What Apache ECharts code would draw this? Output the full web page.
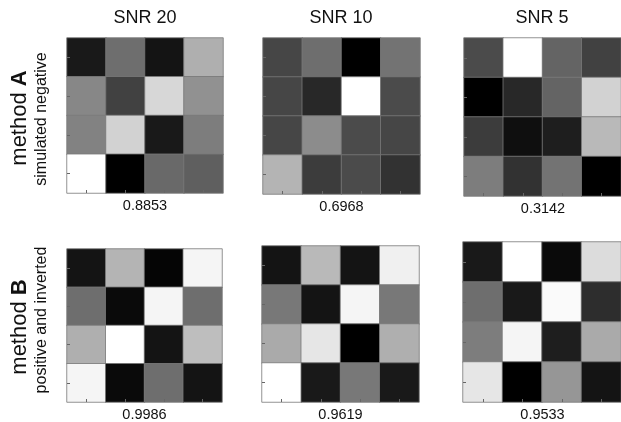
<!DOCTYPE html>
<html>
<head>
<meta charset="utf-8">
<script src="https://cdn.jsdelivr.net/npm/echarts@6/dist/echarts.min.js"></script>
<style>
html,body{margin:0;padding:0;background:#fff;}
#chart{width:621px;height:422px;}
</style>
</head>
<body>
<div id="chart"></div>
<script>
// Column titles and row labels
const colTitles = ['SNR 20', 'SNR 10', 'SNR 5'];
const rowMethods = ['A', 'B'];
const rowSubtitles = ['simulated negative', 'positive and inverted'];
// Scores under each panel (row A, then row B)
const scoresA = ['0.8853', '0.6968', '0.3142'];
const scoresB = ['0.9986', '0.9619', '0.9533'];
// 4x4 gray levels (0 = black, 255 = white), rows top to bottom
const a20 = [[25,110,20,175],[135,65,215,145],[130,210,25,125],[255,0,105,95]];
const a10 = [[70,110,0,115],[70,40,255,75],[70,140,75,70],[180,60,75,50]];
const a5  = [[75,255,100,65],[0,40,100,210],[60,15,30,185],[125,50,115,0]];
const b20 = [[20,180,5,245],[110,10,245,110],[175,255,20,190],[245,10,110,20]];
const b10 = [[20,185,20,240],[120,20,245,120],[170,230,0,175],[255,25,120,25]];
const b5  = [[25,255,10,220],[110,25,250,45],[125,245,30,170],[230,0,150,20]];

const matrices = [a20, a10, a5, b20, b10, b5];
const scores = scoresA.concat(scoresB);
const cats = ['1','2','3','4'];

// panel boxes [left, top, width, height]
const boxes = [
  [67, 38, 156, 155], [263, 38, 157, 156], [464, 38, 158, 158],
  [67, 249, 155, 153], [262, 246, 157, 156], [463, 242, 159, 160]
];

const grids = [], xAxes = [], yAxes = [], series = [], graphics = [];
matrices.forEach((m, i) => {
  const b = boxes[i];
  grids.push({left: b[0], top: b[1], width: b[2], height: b[3], containLabel: false});
  const tick = {show: true, inside: true, length: 3, alignWithLabel: true, lineStyle: {color: '#666', width: 1}};
  xAxes.push({type: 'category', gridIndex: i, data: cats, z: 5, axisLabel: {show: false}, axisLine: {show: false}, axisTick: tick, splitLine: {show: false}});
  yAxes.push({type: 'category', gridIndex: i, data: cats, inverse: true, z: 5, axisLabel: {show: false}, axisLine: {show: false}, axisTick: tick, splitLine: {show: false}});
  const data = [];
  m.forEach((row, r) => row.forEach((v, c) => data.push([c, r, v])));
  series.push({type: 'heatmap', xAxisIndex: i, yAxisIndex: i, data: data,
    itemStyle: {borderColor: 'rgba(120,120,120,0.8)', borderWidth: 1}, emphasis: {disabled: true}});
  const cx = b[0] + b[2] / 2;
  graphics.push({type: 'text', x: cx, y: b[1] + b[3] + 13,
    style: {text: scores[i], font: '14.5px "Liberation Sans", Arial, sans-serif', fill: '#111', align: 'center', verticalAlign: 'middle'}});
});

colTitles.forEach((t, i) => {
  const b = boxes[i];
  graphics.push({type: 'text', x: b[0] + 78, y: 18,
    style: {text: t, font: '18px "Liberation Sans", Arial, sans-serif', fill: '#111', align: 'center', verticalAlign: 'middle'}});
});

const methodY = [118, 327];
const subY = [119, 320];
rowMethods.forEach((mName, i) => {
  graphics.push({type: 'text', x: 19.5, y: methodY[i], rotation: Math.PI / 2,
    style: {text: '{n|method }{b|' + mName + '}', align: 'center', verticalAlign: 'middle', fill: '#111',
      rich: {n: {fontSize: 22, fontFamily: '"Liberation Sans", Arial, sans-serif', fill: '#111'},
             b: {fontSize: 22, fontWeight: 'bold', fontFamily: '"Liberation Sans", Arial, sans-serif', fill: '#111'}}}});
  graphics.push({type: 'text', x: 42, y: subY[i], rotation: Math.PI / 2,
    style: {text: rowSubtitles[i], font: '16px "Liberation Sans", Arial, sans-serif', fill: '#111', align: 'center', verticalAlign: 'middle'}});
});

const chart = echarts.init(document.getElementById('chart'), null, {renderer: 'canvas'});
chart.setOption({
  backgroundColor: '#fff',
  animation: false,
  grid: grids,
  xAxis: xAxes,
  yAxis: yAxes,
  visualMap: {show: false, type: 'continuous', min: 0, max: 255, seriesIndex: [0,1,2,3,4,5], inRange: {color: ['#000000', '#ffffff']}},
  series: series,
  graphic: graphics
});
</script>
</body>
</html>
